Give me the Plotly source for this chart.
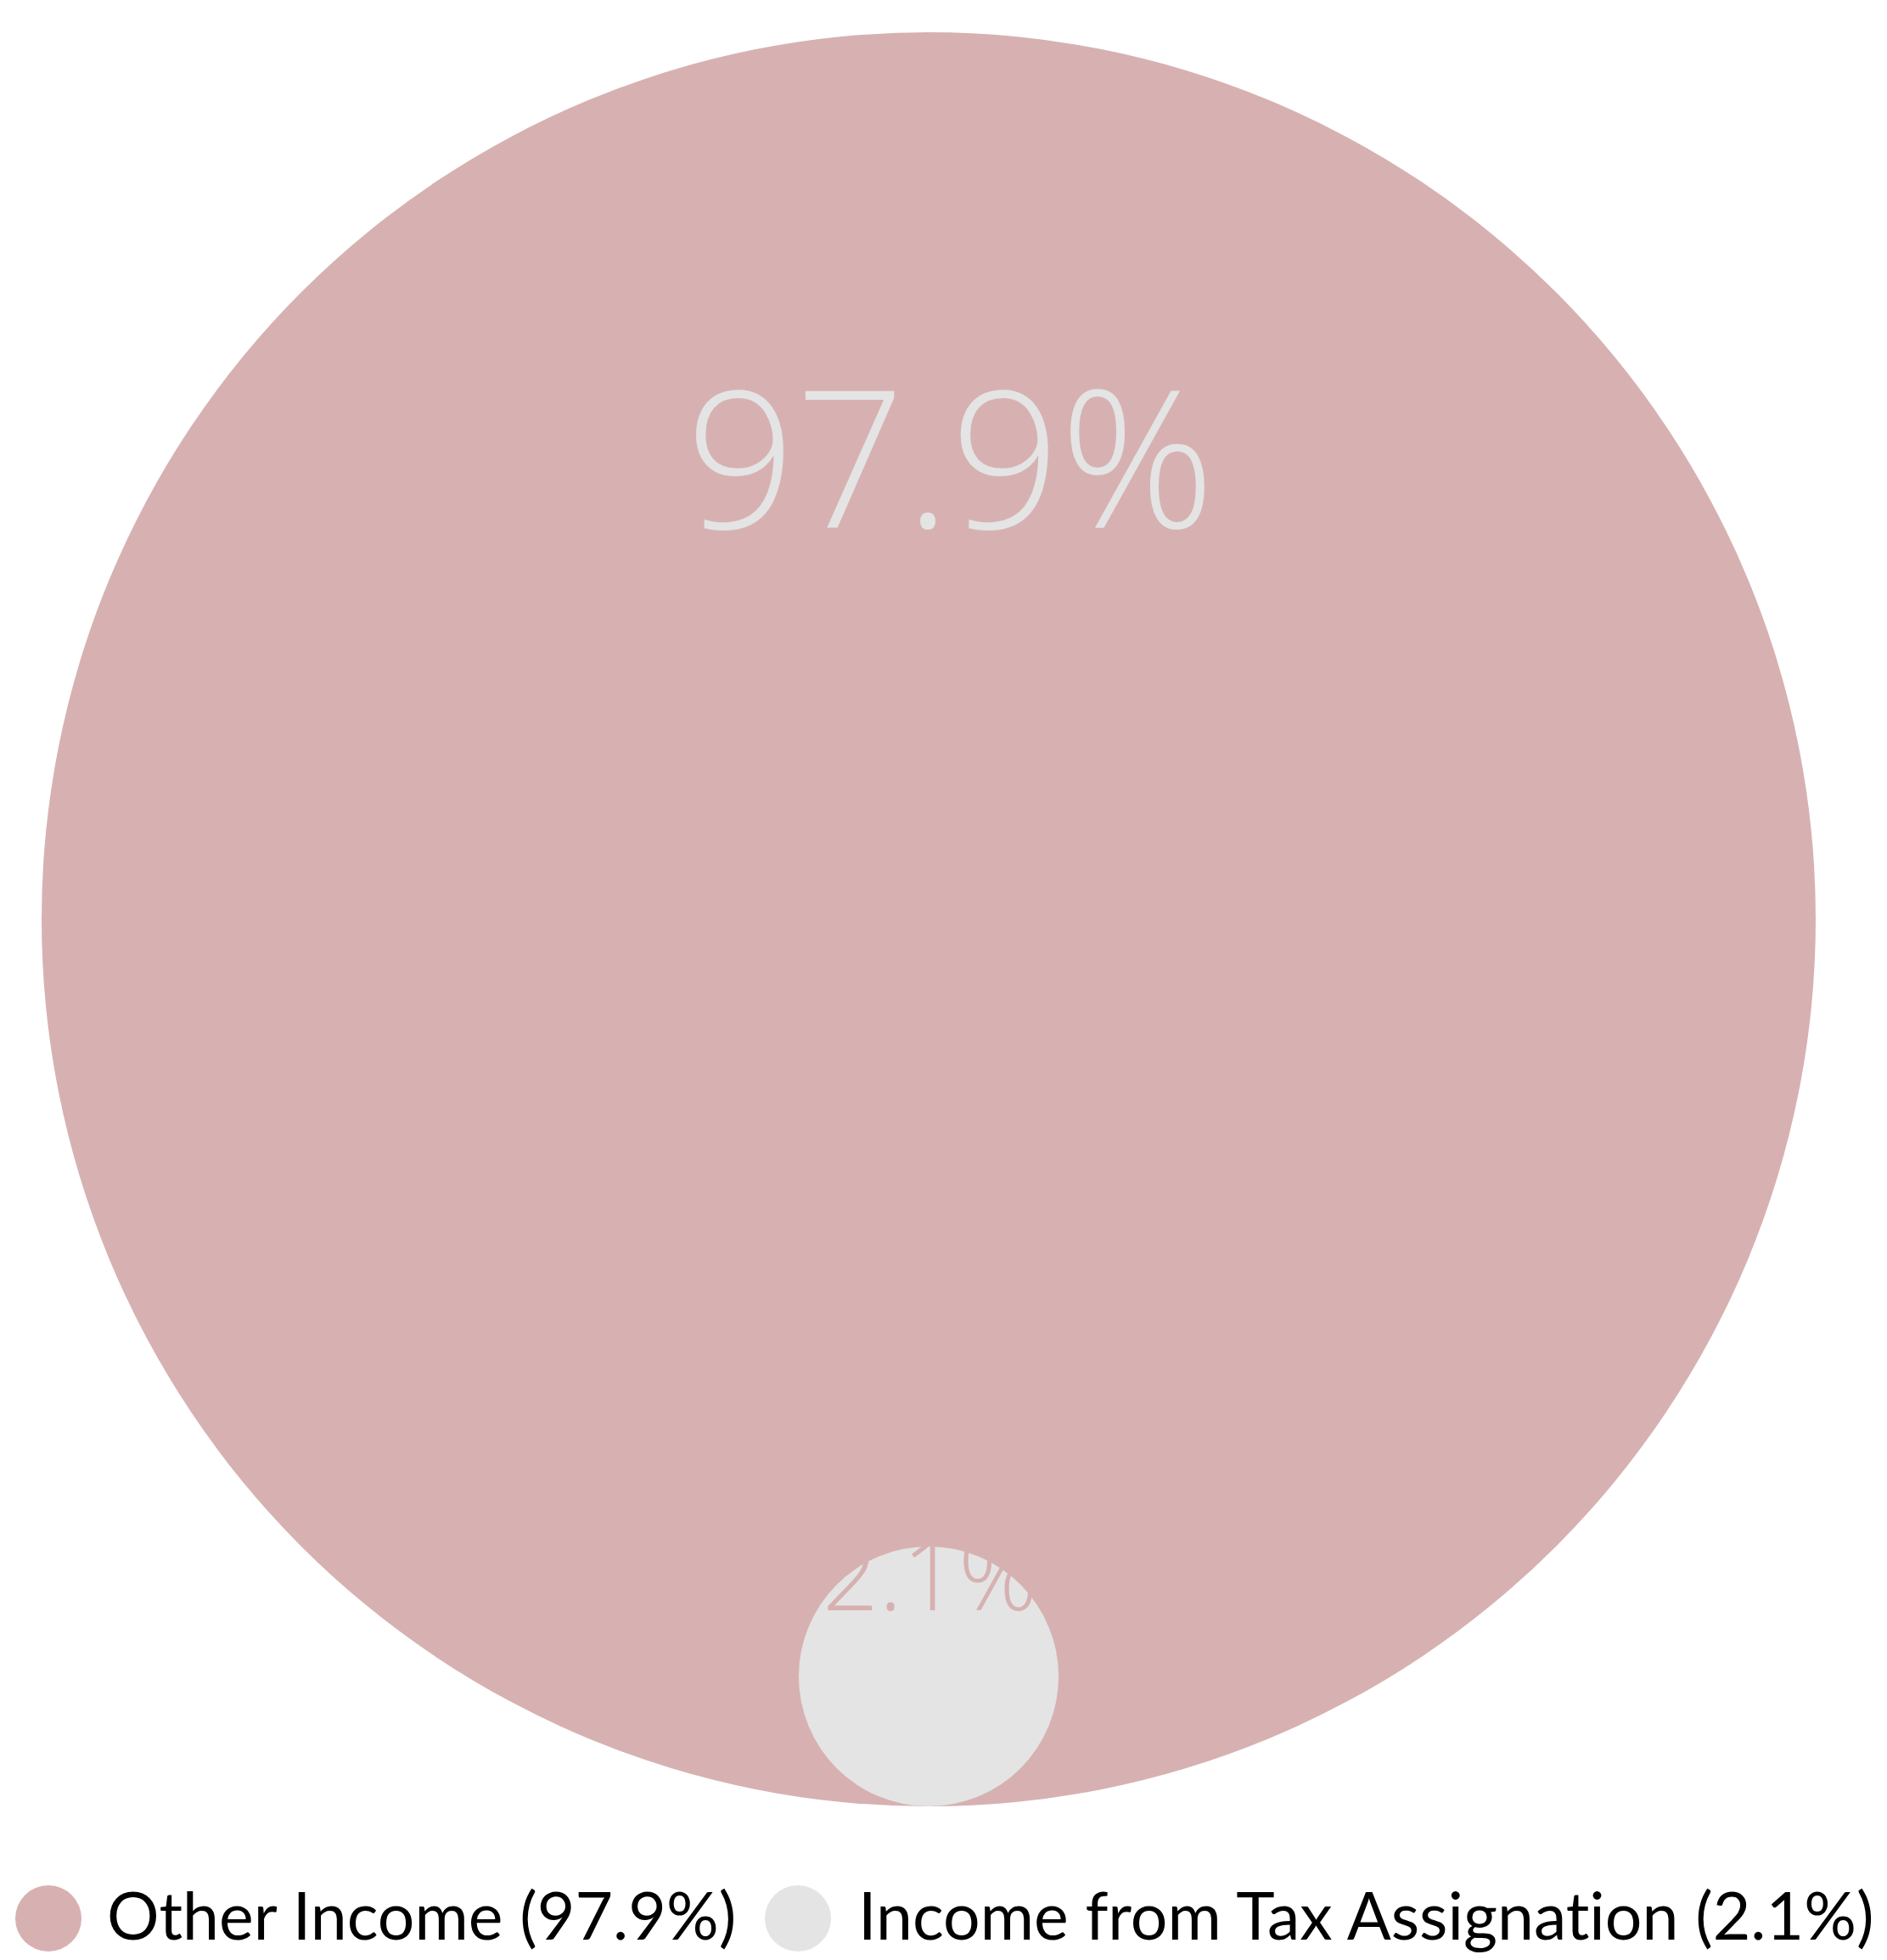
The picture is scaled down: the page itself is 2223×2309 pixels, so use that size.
import math
import plotly.graph_objects as go

# ---- data ----
categories = ["Other Income", "Income from Tax Assignat\u200cion"]
values = [97.9, 2.1]
fill_colors = ["#d7b1b1", "#e4e4e4"]
label_colors = ["#e4e4e4", "#d7b1b1"]

# ---- layout constants (pixels in the page; the page body has an 8px margin) ----
OFF = 8
W, H = 2223 - 2 * OFF, 2309 - 2 * OFF
CX, CY = 1094 - OFF, 1083 - OFF     # centre of the big circle (figure px)
R_PX = 1045                          # radius of the big circle

radii = [math.sqrt(v) for v in values]
u = radii[0] / R_PX                  # data units per pixel


def dx(page_px):
    return (page_px - OFF - CX) * u


def dy(page_py):
    return (CY - (page_py - OFF)) * u


fig = go.Figure()

# circles: big one centred at origin, small one tangent at its bottom
centres = [(0.0, 0.0), (0.0, -radii[0] + radii[1])]
for (cx, cy), r, col in zip(centres, radii, fill_colors):
    fig.add_shape(type="circle", xref="x", yref="y",
                  x0=cx - r, x1=cx + r, y0=cy - r, y1=cy + r,
                  fillcolor=col, line=dict(width=0), layer="below")

# value labels
LABEL_FONT = "Open Sans"
DESC = 0.293
label_font_sizes = [226, 116]
label_x_px = [1119, 1096]
label_baseline_px = [623, 1898]
for v, fs, xp, bp, lc in zip(values, label_font_sizes, label_x_px, label_baseline_px, label_colors):
    fig.add_annotation(x=dx(xp), y=dy(bp + DESC * fs + 1), xref="x", yref="y",
                       text=f"{v:.1f}%", showarrow=False,
                       xanchor="center", yanchor="bottom",
                       font=dict(family=LABEL_FONT, size=fs, color=lc, weight=350))

# custom legend
leg_marker_x = [57, 940]
leg_text_x = [124, 1009]
leg_y = 2260
leg_r = 39
for cat, v, col, mx, tx in zip(categories, values, fill_colors, leg_marker_x, leg_text_x):
    fig.add_shape(type="circle", xref="x", yref="y",
                  x0=dx(mx - leg_r), x1=dx(mx + leg_r),
                  y0=dy(leg_y + leg_r), y1=dy(leg_y - leg_r),
                  fillcolor=col, line=dict(width=0))
    fig.add_annotation(x=dx(tx), y=dy(2255), xref="x", yref="y",
                       text=f"{cat} ({v:.1f}%)", showarrow=False,
                       xanchor="left", yanchor="middle",
                       font=dict(family="Lato", size=77, color="#000000"))

fig.update_layout(
    width=W, height=H,
    margin=dict(l=0, r=0, t=0, b=0),
    paper_bgcolor="white", plot_bgcolor="white",
    showlegend=False,
    xaxis=dict(range=[dx(OFF), dx(OFF + W)], visible=False, fixedrange=True),
    yaxis=dict(range=[dy(OFF + H), dy(OFF)], visible=False, fixedrange=True),
)

fig.write_html("out.html")
